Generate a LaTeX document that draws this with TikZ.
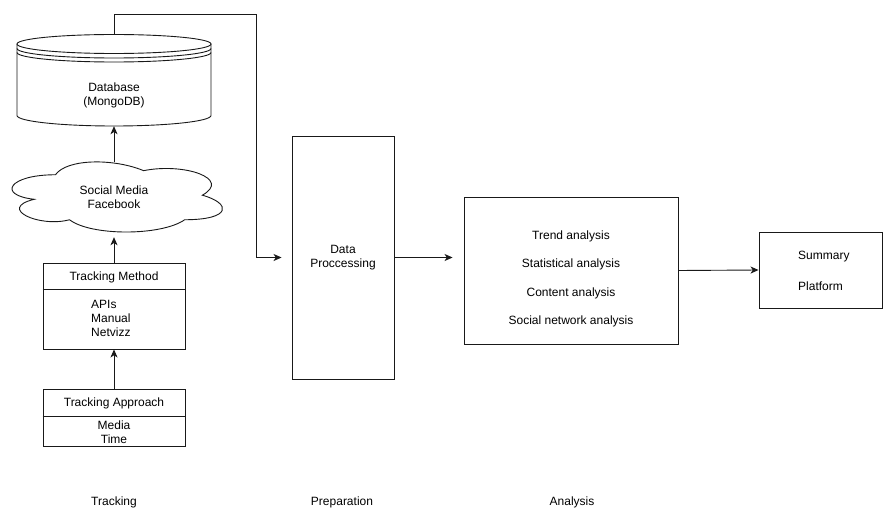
\documentclass[tikz,border=0pt]{standalone}
\usepackage{fontspec}
\setmainfont{Liberation Sans}
\usetikzlibrary{arrows.meta}

\begin{document}
\begin{tikzpicture}[x=1pt,y=-1pt,
  every node/.style={font=\fontsize{12}{14}\selectfont, inner sep=0pt},
  stroke/.style={line width=0.9pt, draw=black!90},
  box/.style={stroke, fill=white, minimum width=#1},
  area/.style={minimum width=#1},
  arr/.style={stroke, -{Stealth[length=8pt,width=7pt,inset=2.2pt]}},
  lbl/.style={align=center}
]
\useasboundingbox (0,0) rectangle (883,508);

% ---------- database (data store shape) ----------
\begin{scope}[stroke]
  \fill[white] (17,44) rectangle (211,115.5);
  \draw (17,44) -- (17,115.5) arc[start angle=180,end angle=360,x radius=97pt,y radius=10.5pt] -- (211,44);
  \draw[fill=white] (114,44) ellipse[x radius=97pt,y radius=9.5pt];
  \draw (17,48.5) arc[start angle=180,end angle=360,x radius=97pt,y radius=9.5pt];
  \draw (17,52.5) arc[start angle=180,end angle=360,x radius=97pt,y radius=9.5pt];
\end{scope}
\node[area=194pt, minimum height=92pt] (db) at (114,80) {};
\node[lbl] (dbtext) at (114,95) {Database\\(MongoDB)};

% ---------- cloud ----------
\begin{scope}[shift={(-3.3,154.3)}, x=235pt, y=-81.8pt]
  \draw[stroke, fill=white] (0.25,0.25)
    .. controls (0.05,0.25) and (0,0.5) .. (0.16,0.55)
    .. controls (0,0.66) and (0.18,0.9) .. (0.31,0.8)
    .. controls (0.4,1) and (0.7,1) .. (0.8,0.8)
    .. controls (1,0.8) and (1,0.6) .. (0.875,0.5)
    .. controls (1,0.3) and (0.8,0.1) .. (0.625,0.2)
    .. controls (0.5,0.05) and (0.3,0.05) .. (0.25,0.25) -- cycle;
\end{scope}
\node[area=200pt, minimum height=71pt, lbl] (cloud) at (114,197.5) {Social Media\\Facebook};

% ---------- tracking method ----------
\node[box=142pt, minimum height=86pt] (tm) at (114,306) {};
\coordinate (tmdiv) at (0,289);
\draw[stroke] (tm.west |- tmdiv) -- (tm.east |- tmdiv);
\node (tmhead) at (114,277) {Tracking Method};
\node[anchor=west, align=left] (tmbody) at (91,318) {APIs\\Manual\\Netvizz};

% ---------- tracking approach ----------
\node[box=142pt, minimum height=57pt] (ta) at (114,417.5) {};
\coordinate (tadiv) at (0,416);
\draw[stroke] (ta.west |- tadiv) -- (ta.east |- tadiv);
\node (tahead) at (114,403) {Tracking Approach};
\node[lbl] (tabody) at (114,432.5) {Media\\Time};

% ---------- data processing ----------
\node[box=102pt, minimum height=243pt, lbl] (dp) at (343,257.5) {Data\\Proccessing};

% ---------- analysis ----------
\node[box=214pt, minimum height=147pt] (an) at (571,270.5) {};
\node (a1) at (571,236) {Trend analysis};
\node (a2) at (571,264) {Statistical analysis};
\node (a3) at (571,293) {Content analysis};
\node (a4) at (571,321) {Social network analysis};

% ---------- summary ----------
\node[box=123pt, minimum height=76pt] (sum) at (820.5,270) {};
\node[anchor=west] (s1) at (798,257) {Summary};
\node[anchor=west] (s2) at (798,286) {Platform};

% ---------- stage labels ----------
\node (l1) at (114,502) {Tracking};
\node (l2) at (342,502) {Preparation};
\node (l3) at (572,502) {Analysis};

% ---------- connectors ----------
\coordinate (bend) at (256,14);
\draw[arr] (ta.north) -- (tm.south);
\draw[arr, shorten >=4pt] (tm.north) -- (cloud.south);
\draw[arr] (cloud.north) -- (db.south);
\draw[arr, shorten >=10pt] (db.north) |- (bend) |- (dp.west);
\draw[arr, shorten >=11pt] (dp.east) -- (dp.east -| an.west);
\draw[arr] (an.east) -- (sum.west);
\end{tikzpicture}
\end{document}
